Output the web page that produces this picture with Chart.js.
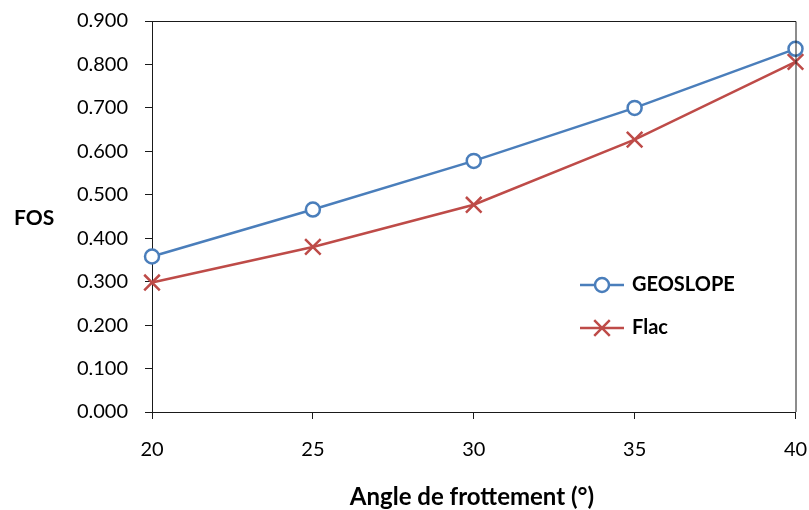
<!DOCTYPE html>
<html>
<head>
<meta charset="utf-8">
<script src="https://cdn.jsdelivr.net/npm/chart.js@4/dist/chart.umd.min.js"></script>
<style>
  html, body { margin: 0; padding: 0; background: #ffffff; }
  #wrap { width: 809px; height: 510px; }
</style>
</head>
<body>
<div id="wrap"><canvas id="c" width="809" height="510"></canvas></div>
<script>
// Friction angle (degrees) and factor of safety from each method
const angles = [20, 25, 30, 35, 40];
const geoslopeFos = [0.358, 0.466, 0.578, 0.700, 0.836];
const flacFos = [0.298, 0.380, 0.477, 0.627, 0.806];
const seriesNames = ['GEOSLOPE', 'Flac'];
const xTitle = 'Angle de frottement (°)';
const yTitle = 'FOS';

const BLUE = '#4A7EBB';
const RED = '#BE4B48';
const AXIS = '#1a1a1a';
const FONT = 'Lato, "Open Sans", sans-serif';

const toPoints = (ys) => angles.map((a, i) => ({ x: a, y: ys[i] }));

// Frame, axis titles and in-plot legend
const decorations = {
  id: 'decorations',
  afterDraw(chart) {
    const { ctx, chartArea: a } = chart;
    ctx.save();
    ctx.strokeStyle = AXIS;
    ctx.lineWidth = 1;
    ctx.beginPath();
    ctx.moveTo(a.left, a.top + 0.5);
    ctx.lineTo(a.right + 0.5, a.top + 0.5);
    ctx.lineTo(a.right + 0.5, a.bottom);
    ctx.stroke();

    ctx.fillStyle = '#000';
    ctx.textBaseline = 'middle';
    ctx.textAlign = 'center';
    ctx.font = 'bold 24px ' + FONT;
    ctx.fillText(xTitle, 472, 497);
    ctx.textAlign = 'left';
    ctx.font = 'bold 21px ' + FONT;
    ctx.fillText(yTitle, 14, 218);

    // legend entries
    const rows = [285, 328];
    chart.data.datasets.forEach((ds, i) => {
      const y = rows[i];
      const x0 = 580, x1 = 624, xm = 602;
      ctx.strokeStyle = ds.borderColor;
      ctx.lineWidth = ds.borderWidth;
      ctx.beginPath();
      ctx.moveTo(x0, y);
      ctx.lineTo(x1, y);
      ctx.stroke();
      ctx.lineWidth = ds.pointBorderWidth;
      ctx.strokeStyle = ds.pointBorderColor;
      if (ds.pointStyle === 'circle') {
        ctx.fillStyle = ds.pointBackgroundColor;
        ctx.beginPath();
        ctx.arc(xm, y, ds.pointRadius, 0, Math.PI * 2);
        ctx.fill();
        ctx.stroke();
      } else {
        const r = ds.pointRadius * 0.7071;
        ctx.beginPath();
        ctx.moveTo(xm - r, y - r); ctx.lineTo(xm + r, y + r);
        ctx.moveTo(xm + r, y - r); ctx.lineTo(xm - r, y + r);
        ctx.stroke();
      }
      ctx.fillStyle = '#000';
      ctx.font = 'bold 20px ' + FONT;
      ctx.textAlign = 'left';
      ctx.fillText(ds.label, 632, y);
    });
    ctx.restore();
  }
};

new Chart(document.getElementById('c'), {
  type: 'line',
  data: {
    datasets: [
      {
        label: seriesNames[0],
        data: toPoints(geoslopeFos),
        borderColor: BLUE,
        borderWidth: 2.5,
        pointStyle: 'circle',
        pointRadius: 7,
        pointBorderWidth: 2.5,
        pointBorderColor: BLUE,
        pointBackgroundColor: '#ffffff',
        tension: 0
      },
      {
        label: seriesNames[1],
        data: toPoints(flacFos),
        borderColor: RED,
        borderWidth: 2.5,
        pointStyle: 'crossRot',
        pointRadius: 11,
        pointBorderWidth: 2.5,
        pointBorderColor: RED,
        pointBackgroundColor: RED,
        tension: 0
      }
    ]
  },
  options: {
    responsive: false,
    animation: false,
    clip: false,
    layout: { padding: { top: 21, right: 12, bottom: 0, left: 0 } },
    plugins: { legend: { display: false }, tooltip: { enabled: false } },
    scales: {
      x: {
        type: 'linear',
        min: 20,
        max: 40,
        afterFit(s) { s.height = 98; s.paddingLeft = 0; s.paddingRight = 0; },
        border: { color: AXIS, width: 1 },
        grid: { drawOnChartArea: false, tickLength: 7, color: AXIS },
        ticks: {
          stepSize: 5,
          color: '#000',
          padding: 19,
          maxRotation: 0,
          font: { family: FONT, size: 20 }
        }
      },
      y: {
        min: 0,
        max: 0.9,
        afterFit(s) { s.width = 152; s.paddingTop = 0; s.paddingBottom = 0; },
        border: { color: AXIS, width: 1 },
        grid: { drawOnChartArea: false, tickLength: 7, color: AXIS },
        ticks: {
          stepSize: 0.1,
          color: '#000',
          padding: 17,
          font: { family: FONT, size: 20 },
          callback: (v) => v.toFixed(3)
        }
      }
    }
  },
  plugins: [decorations]
});
</script>
</body>
</html>
